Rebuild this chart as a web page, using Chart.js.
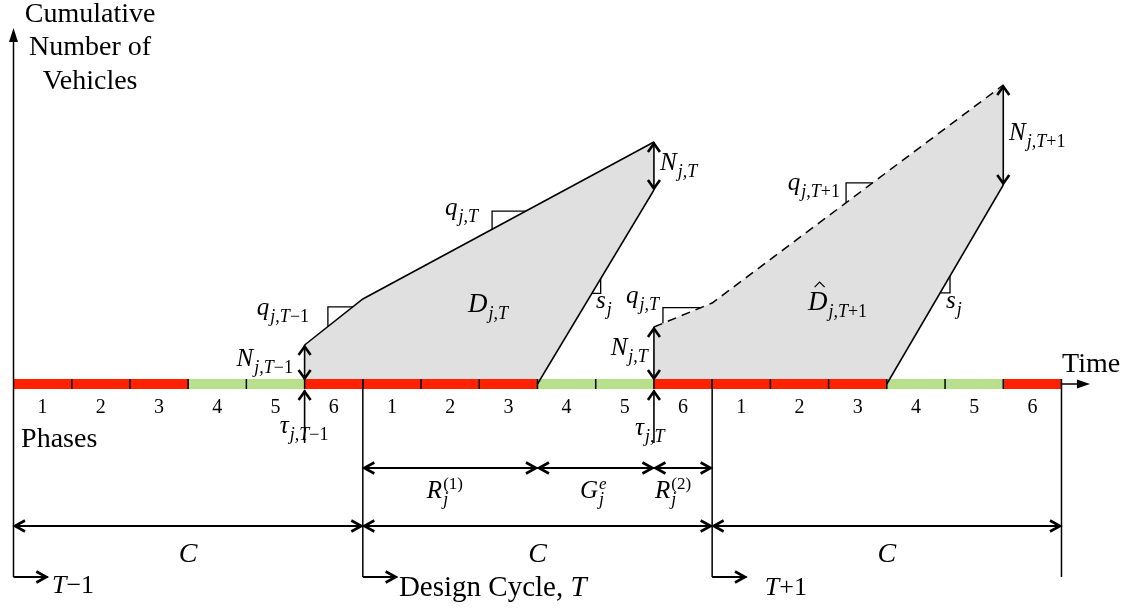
<!DOCTYPE html>
<html><head><meta charset="utf-8">
<script src="https://cdn.jsdelivr.net/npm/chart.js@4.4.1/dist/chart.umd.min.js"></script>
<style>html,body{margin:0;padding:0;background:#fff;overflow:hidden}canvas{display:block}</style>
</head><body>
<canvas id="c" width="1137" height="609"></canvas>
<script>
// ===================== DATA =====================
// time in seconds (cycle length C = 120 s, six phases of 20 s)
const phaseEdges   = [0,20,40,60,80,100,120,140,160,180,200,220,240,260,280,300,320,340,360];
const phaseNumbers = ['1','2','3','4','5','6','1','2','3','4','5','6','1','2','3','4','5','6'];
const phaseSignals = ['R','R','R','G','G','R','R','R','R','G','G','R','R','R','R','G','G','R'];
const cycleEdges   = [0,120,240,360];
const cycleNames   = ['T−1','Design Cycle, ','T+1'];
// cumulative vehicles, design cycle T
const arrivalT = [100,120,220];
const arrivalN = [39,85,242];
const departT  = [180,220];
const departN  = [0,194];
// predicted cumulative vehicles, cycle T+1
const predArrivalT = [220,240,340];
const predArrivalN = [57,81,299];
const predDepartT  = [300,340];
const predDepartN  = [0,199];
// queue-clearing instants tau
const tauT = [100,220];
// split of design cycle: R(1), G^e, R(2)
const splitEdges = [120,180,220,240];

// ===================== STYLE / LAYOUT =====================
const COL = {red:'#ff2200', green:'#b8e08c', area:'#e0e0e0', ink:'#000'};
const SERIF = '"Liberation Serif","Times New Roman",serif';
const X_MIN = -4.637, X_MAX = 385.94, Y_MIN = -225, Y_MAX = 384;
const ROW = {split:-84, cyc:-142, base:-193, tauTail:-59, bar:5, yTop:356, yTriBase:342};

function interp(ts, vs, t){
  for (let i=0;i<ts.length-1;i++){
    if (t>=ts[i] && t<=ts[i+1]) return vs[i] + (vs[i+1]-vs[i])*(t-ts[i])/(ts[i+1]-ts[i]);
  }
  return vs[vs.length-1];
}
const pts = (ts, vs) => ts.map((t,i)=>({x:t, y:vs[i]}));
function polygon(aT,aN,dT,dN){
  const p=[{x:aT[0],y:0}];
  aT.forEach((t,i)=>p.push({x:t,y:aN[i]}));
  for(let i=dT.length-1;i>=0;i--) p.push({x:dT[i],y:dN[i]});
  return p;
}
function lineDS(points, extra){
  return Object.assign({data:points, showLine:true, borderColor:COL.ink, borderWidth:1.5,
    pointRadius:0, fill:false, order:1}, extra||{});
}

// arrows: a -> b, heads at 'b' or both
const arrows = [
  {a:[tauT[0],4], b:[tauT[0],arrivalN[0]], both:true, k:'n'},
  {a:[departT[1],departN[1]], b:[arrivalT[2],arrivalN[2]], both:true, k:'n'},
  {a:[tauT[1],4], b:[tauT[1],predArrivalN[0]], both:true, k:'n'},
  {a:[predDepartT[1],predDepartN[1]], b:[predArrivalT[2],predArrivalN[2]], both:true, k:'n'},
  {a:[tauT[0],ROW.tauTail], b:[tauT[0],-6], k:'n'},
  {a:[tauT[1],ROW.tauTail], b:[tauT[1],-6], k:'n'},
];
for (let i=0;i<splitEdges.length-1;i++) arrows.push({a:[splitEdges[i],ROW.split], b:[splitEdges[i+1],ROW.split], both:true, k:'d'});
for (let i=0;i<cycleEdges.length-1;i++) arrows.push({a:[cycleEdges[i],ROW.cyc], b:[cycleEdges[i+1],ROW.cyc], both:true, k:'d'});
for (let i=0;i<cycleEdges.length-1;i++) arrows.push({a:[cycleEdges[i],ROW.base], b:[cycleEdges[i]+11.8,ROW.base], k:'d'});

// slope marks
const slopeMarks = [
  {ts:arrivalT, vs:arrivalN, ta:108.0, tb:116.6, kind:'q'},
  {ts:arrivalT, vs:arrivalN, ta:164.4, tb:176.0, kind:'q'},
  {ts:departT, vs:departN, ta:198.7, tb:201.7, kind:'s'},
  {ts:predArrivalT, vs:predArrivalN, ta:223.1, tb:236.2, kind:'q'},
  {ts:predArrivalT, vs:predArrivalN, ta:286.0, tb:295.1, kind:'q'},
  {ts:predDepartT, vs:predDepartN, ta:318.3, tb:321.7, kind:'s'},
];

// ===================== DATASETS =====================
const datasets = [];
datasets.push({data:polygon(arrivalT,arrivalN,departT,departN), showLine:true, fill:'shape',
  backgroundColor:COL.area, borderColor:'rgba(0,0,0,0)', borderWidth:0, pointRadius:0, order:30});
datasets.push({data:polygon(predArrivalT,predArrivalN,predDepartT,predDepartN), showLine:true, fill:'shape',
  backgroundColor:COL.area, borderColor:'rgba(0,0,0,0)', borderWidth:0, pointRadius:0, order:30});
// signal bar
datasets.push({data:phaseEdges.map(t=>({x:t,y:0})), showLine:true, borderWidth:10, pointRadius:0,
  borderCapStyle:'butt', fill:false, order:20, borderColor:COL.red,
  segment:{borderColor:c=>phaseSignals[c.p0DataIndex]==='G'?COL.green:COL.red}});
// phase ticks
datasets.push({data:phaseEdges.slice(1,-1).map(t=>({x:t,y:0})), showLine:false, pointStyle:'line',
  rotation:90, pointRadius:5, pointBorderWidth:1.5, borderColor:COL.ink, pointBorderColor:COL.ink, order:15});
// cumulative curves
datasets.push(lineDS(pts(arrivalT,arrivalN)));
datasets.push(lineDS(pts(departT,departN)));
datasets.push(lineDS(pts(predArrivalT,predArrivalN),{borderDash:[9,6]}));
datasets.push(lineDS(pts(predDepartT,predDepartN)));
// vertical axis
datasets.push(lineDS([{x:cycleEdges[0],y:ROW.base},{x:cycleEdges[0],y:ROW.yTriBase}]));
// cycle boundary lines
cycleEdges.slice(1).forEach(t=>datasets.push(lineDS([{x:t,y:ROW.bar},{x:t,y:ROW.base}])));
// time axis arrow shaft
datasets.push(lineDS([{x:cycleEdges[3],y:0},{x:366,y:0}]));
// arrow shafts
arrows.forEach(a=>datasets.push(lineDS([{x:a.a[0],y:a.a[1]},{x:a.b[0],y:a.b[1]}],{borderWidth:a.k==='d'?2:1.6})));
// slope marks
slopeMarks.forEach(m=>{
  const fa=interp(m.ts,m.vs,m.ta), fb=interp(m.ts,m.vs,m.tb);
  const p = m.kind==='q' ? [{x:m.ta,y:fa},{x:m.ta,y:fb},{x:m.tb,y:fb}]
                         : [{x:m.ta,y:fa},{x:m.tb,y:fa},{x:m.tb,y:fb}];
  datasets.push(lineDS(p,{borderWidth:1.3}));
});

// ===================== LABELS =====================
const mathLabels = [
  {t:96.0,  v:18,  main:[['N',1]], sub:[['j,T',1],['−1',0]], align:'right'},
  {t:83.6,  v:69,  main:[['q',1]], sub:[['j,T',1],['−1',0]]},
  {t:91.5,  v:-49, main:[['τ',1]], sub:[['j,T',1],['−1',0]]},
  {t:148.2, v:169, main:[['q',1]], sub:[['j,T',1]]},
  {t:156.1, v:72,  main:[['D',1]], sub:[['j,T',1]], size:27},
  {t:200.1, v:76,  main:[['s',1]], sub:[['j',1]]},
  {t:222.1, v:214, main:[['N',1]], sub:[['j,T',1]]},
  {t:210.4, v:81,  main:[['q',1]], sub:[['j,T',1]]},
  {t:217.9, v:29,  main:[['N',1]], sub:[['j,T',1]], align:'right'},
  {t:213.5, v:-51, main:[['τ',1]], sub:[['j,T',1]]},
  {t:266.0, v:194, main:[['q',1]], sub:[['j,T',1],['+1',0]]},
  {t:272.9, v:74,  main:[['D',1]], sub:[['j,T',1],['+1',0]], size:27, hat:true},
  {t:342.0, v:244, main:[['N',1]], sub:[['j,T',1],['+1',0]]},
  {t:320.3, v:76,  main:[['s',1]], sub:[['j',1]]},
  {t:142.0, v:-114, main:[['R',1]], sub:[['j',1]], sup:[['(1)',0]]},
  {t:194.6, v:-114, main:[['G',1]], sub:[['j',1]], sup:[['e',1]]},
  {t:220.4, v:-114, main:[['R',1]], sub:[['j',1]], sup:[['(2)',0]]},
];

function font(size,it){return (it?'italic ':'')+size+'px '+SERIF;}
function runsWidth(ctx,runs,size){let w=0;for(const [s,it] of runs){ctx.font=font(size,it);w+=ctx.measureText(s).width;}return w;}
function drawRuns(ctx,runs,size,x,y){for(const [s,it] of runs){ctx.font=font(size,it);ctx.fillText(s,x,y);x+=ctx.measureText(s).width;}return x;}
function drawMath(ctx,x,y,L){
  const M=L.size||25, S=18;
  const mw=runsWidth(ctx,L.main,M);
  const sw=L.sub?runsWidth(ctx,L.sub,S):0, pw=L.sup?runsWidth(ctx,L.sup,S-1):0;
  const total=mw+1+Math.max(sw,pw);
  const x0 = L.align==='right'? x-total : x;
  const xe = drawRuns(ctx,L.main,M,x0,y);
  if(L.sub) drawRuns(ctx,L.sub,S,xe+1,y+7);
  if(L.sup) drawRuns(ctx,L.sup,S-1,xe+1,y-9);
  if(L.hat){
    const cx=x0+mw*0.6, ty=y-M*0.66-5;
    ctx.beginPath(); ctx.lineWidth=1.2;
    ctx.moveTo(cx-5,ty); ctx.lineTo(cx,ty-5); ctx.lineTo(cx+5,ty); ctx.stroke();
  }
}
function chevron(ctx,px,py,dx,dy,L,W){
  const nx=-dy, ny=dx;
  ctx.beginPath();
  ctx.moveTo(px-dx*L+nx*W, py-dy*L+ny*W);
  ctx.lineTo(px,py);
  ctx.lineTo(px-dx*L-nx*W, py-dy*L-ny*W);
  ctx.stroke();
}

const annot = {
  id:'annot',
  afterDatasetsDraw(chart){
    const {ctx, scales:{x,y}} = chart;
    const X=t=>x.getPixelForValue(t), Y=v=>y.getPixelForValue(v);
    ctx.save();
    ctx.strokeStyle=COL.ink; ctx.fillStyle=COL.ink;
    ctx.lineJoin='miter'; ctx.lineCap='butt';
    // arrow heads
    for(const a of arrows){
      const ax=X(a.a[0]), ay=Y(a.a[1]), bx=X(a.b[0]), by=Y(a.b[1]);
      const len=Math.hypot(bx-ax,by-ay), dx=(bx-ax)/len, dy=(by-ay)/len;
      const L = a.k==='d'?10:8.5, W = a.k==='d'?5.5:6;
      ctx.lineWidth = 2.6;
      chevron(ctx,bx-dx*1.5,by-dy*1.5,dx,dy,L,W);
      if(a.both) chevron(ctx,ax+dx*1.5,ay+dy*1.5,-dx,-dy,L,W);
    }
    // vertical axis head
    const ax0=X(cycleEdges[0]);
    ctx.beginPath(); ctx.moveTo(ax0,Y(ROW.yTop)); ctx.lineTo(ax0-4.5,Y(ROW.yTriBase)); ctx.lineTo(ax0+4.5,Y(ROW.yTriBase)); ctx.closePath(); ctx.fill();
    // time axis head
    ctx.beginPath(); ctx.moveTo(X(369.8),Y(0)); ctx.lineTo(X(365.3),Y(0)-4.5); ctx.lineTo(X(365.3),Y(0)+4.5); ctx.closePath(); ctx.fill();

    ctx.textBaseline='alphabetic';
    // phase numbers
    ctx.textAlign='center'; ctx.font=font(20,false);
    for(let i=0;i<phaseNumbers.length;i++){
      ctx.fillText(phaseNumbers[i], X((phaseEdges[i]+phaseEdges[i+1])/2), Y(-29));
    }
    // C labels
    ctx.font=font(28,true);
    for(let i=0;i<cycleEdges.length-1;i++) ctx.fillText('C', X((cycleEdges[i]+cycleEdges[i+1])/2), Y(-178));
    // axis titles
    ctx.font=font(28,false);
    ctx.fillText('Cumulative', X(26.3), Y(362));
    ctx.fillText('Number of', X(26.3), Y(329));
    ctx.fillText('Vehicles', X(26.3), Y(295));
    ctx.textAlign='left';
    ctx.fillText('Phases', X(2.6), Y(-63));
    ctx.fillText('Time', X(360.2), Y(12));
    // cycle names
    drawRuns(ctx,[['T',1],['−1',0]],26,X(13.2),Y(-209));
    drawRuns(ctx,[[cycleNames[1],0],['T',1]],29,X(132.4),Y(-212));
    drawRuns(ctx,[['T',1],['+1',0]],26,X(258.1),Y(-211));
    // math labels
    for(const L of mathLabels) drawMath(ctx,X(L.t),Y(L.v),L);
    ctx.restore();
  }
};

new Chart(document.getElementById('c'), {
  type:'scatter',
  data:{datasets},
  options:{
    responsive:false, animation:false, devicePixelRatio:1,
    layout:{padding:0, autoPadding:false},
    plugins:{legend:{display:false}, tooltip:{enabled:false}},
    scales:{
      x:{type:'linear', min:X_MIN, max:X_MAX, display:false},
      y:{type:'linear', min:Y_MIN, max:Y_MAX, display:false}
    }
  },
  plugins:[annot]
});
</script>
</body></html>
